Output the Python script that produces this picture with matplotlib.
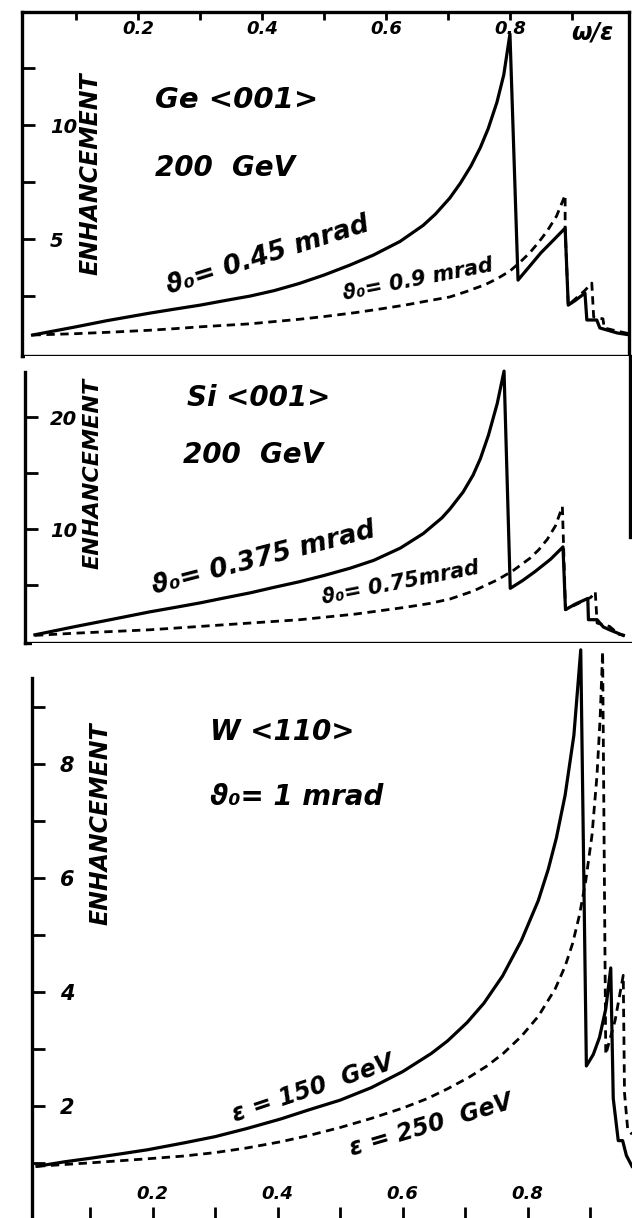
import matplotlib.pyplot as plt

# ---- Ge <001>, 200 GeV ----
ge_x_solid = [0.03, 0.10, 0.15, 0.219, 0.26, 0.30, 0.34, 0.381, 0.42, 0.46, 0.50, 0.542, 0.58,
              0.623, 0.66, 0.68, 0.703, 0.72, 0.737, 0.752, 0.765, 0.779, 0.79, 0.80,
              0.813, 0.83, 0.85, 0.87, 0.889, 0.894, 0.905, 0.921, 0.924, 0.94, 0.945, 0.973, 0.992]
ge_solid = [0.79, 1.15, 1.42, 1.75, 1.93, 2.1, 2.3, 2.5, 2.74, 3.05, 3.42, 3.86, 4.3,
            4.9, 5.6, 6.1, 6.8, 7.45, 8.2, 9.0, 9.85, 11.0, 12.2, 14.0,
            3.2, 3.75, 4.4, 4.95, 5.48, 2.1, 2.3, 2.63, 1.45, 1.45, 1.1, 0.88, 0.8]
ge_x_dash = [0.03, 0.10, 0.16, 0.219, 0.26, 0.30, 0.38, 0.46, 0.50, 0.55, 0.59, 0.63, 0.67,
             0.703, 0.73, 0.76, 0.78, 0.80, 0.815, 0.832, 0.846, 0.86, 0.875, 0.889,
             0.889, 0.894, 0.921, 0.932, 0.935, 0.95, 0.952, 0.975, 0.992]
ge_dash = [0.79, 0.85, 0.92, 1.0, 1.07, 1.15, 1.28, 1.48, 1.6, 1.77, 1.93, 2.1, 2.3,
           2.46, 2.7, 3.0, 3.27, 3.6, 3.95, 4.4, 4.85, 5.35, 6.0, 6.93,
           5.48, 2.1, 2.75, 3.07, 1.58, 1.5, 1.1, 0.95, 0.85]

# ---- Si <001>, 200 GeV ----
si_x_solid = [0.034, 0.10, 0.16, 0.219, 0.26, 0.30, 0.34, 0.381, 0.42, 0.461, 0.50, 0.542, 0.58,
              0.623, 0.66, 0.69, 0.703, 0.724, 0.74, 0.752, 0.765, 0.779, 0.79,
              0.80, 0.82, 0.84, 0.865, 0.885, 0.889, 0.905, 0.925, 0.926, 0.94, 0.95, 0.96, 0.982]
si_solid = [0.55, 1.3, 1.95, 2.6, 3.0, 3.4, 3.85, 4.3, 4.8, 5.3, 5.85, 6.5, 7.2,
            8.3, 9.6, 11.0, 11.8, 13.3, 14.8, 16.3, 18.4, 21.2, 24.1,
            4.7, 5.4, 6.2, 7.3, 8.4, 2.8, 3.3, 3.8, 1.9, 1.9, 1.25, 1.0, 0.5]
si_x_dash = [0.034, 0.10, 0.16, 0.219, 0.26, 0.30, 0.38, 0.461, 0.50, 0.55, 0.59, 0.63, 0.67,
             0.703, 0.74, 0.779, 0.805, 0.832, 0.846, 0.86, 0.873, 0.884,
             0.886, 0.889, 0.93, 0.937, 0.94, 0.96, 0.975, 0.985]
si_dash = [0.5, 0.7, 0.85, 1.0, 1.15, 1.3, 1.6, 1.9, 2.12, 2.4, 2.7, 3.0, 3.35,
           3.75, 4.45, 5.45, 6.3, 7.4, 8.15, 9.1, 10.3, 12.0,
           8.4, 2.8, 3.9, 4.4, 1.6, 1.3, 0.6, 0.5]

# ---- W <110>, theta0 = 1 mrad ----
w_x_150 = [0.015, 0.06, 0.10, 0.15, 0.192, 0.25, 0.30, 0.35, 0.405, 0.45, 0.50, 0.55, 0.60,
           0.646, 0.672, 0.703, 0.73, 0.76, 0.79, 0.817, 0.833, 0.846, 0.86, 0.874, 0.885,
           0.894, 0.905, 0.915, 0.925, 0.933, 0.937, 0.945, 0.952, 0.958, 0.967]
w_150 = [0.94, 1.02, 1.08, 1.16, 1.23, 1.35, 1.46, 1.6, 1.77, 1.93, 2.1, 2.32, 2.6,
         2.92, 3.14, 3.46, 3.8, 4.28, 4.9, 5.6, 6.15, 6.7, 7.45, 8.5, 10.0,
         2.7, 2.9, 3.2, 3.7, 4.42, 2.13, 1.39, 1.39, 1.13, 0.94]
w_x_250 = [0.015, 0.10, 0.19, 0.25, 0.30, 0.35, 0.405, 0.45, 0.50, 0.55, 0.60, 0.64, 0.672,
           0.706, 0.735, 0.761, 0.79, 0.817, 0.844, 0.86, 0.872, 0.883, 0.893, 0.903, 0.911,
           0.916, 0.92, 0.925, 0.94, 0.953, 0.955, 0.96, 0.967]
w_250 = [0.94, 1.0, 1.07, 1.12, 1.18, 1.26, 1.37, 1.48, 1.62, 1.78, 1.96, 2.13, 2.3,
         2.5, 2.7, 2.92, 3.22, 3.57, 4.05, 4.45, 4.85, 5.35, 5.95, 6.75, 7.8,
         8.8, 9.97, 2.9, 3.5, 4.29, 2.23, 1.6, 1.5]

x_ticks = [0.1, 0.2, 0.3, 0.4, 0.5, 0.6, 0.7, 0.8, 0.9]
x_ticklabels = ['', '0.2', '', '0.4', '', '0.6', '', '0.8', '']
ge_yticks = [2.5, 5, 7.5, 10, 12.5]
ge_yticklabels = ['', '5', '', '10', '']
si_yticks = [5, 10, 15, 20]
si_yticklabels = ['', '10', '', '20']
w_yticks = [1, 2, 3, 4, 5, 6, 7, 8, 9]
w_yticklabels = ['', '2', '', '4', '', '6', '', '8', '']

FW, FH = 632, 1218
FONT = dict(family='DejaVu Sans', fontweight='bold', fontstyle='italic')


def box(l, t, r, b):
    return [l / FW, 1 - b / FH, (r - l) / FW, (b - t) / FH]


def label(x, y, s, size, rot=0, ha='center'):
    fig.text(x / FW, 1 - y / FH, s, fontsize=size, rotation=rot, ha=ha, va='center',
             rotation_mode='anchor', **FONT)


def style_y(ax, ticks, labels, pad, size, length):
    ax.set_yticks(ticks, labels=labels)
    ax.tick_params(axis='y', direction='in', length=length, width=2, pad=pad, labelsize=size)
    for t in ax.get_yticklabels():
        t.set_ha('left')
        t.set_fontweight('bold')
        t.set_fontstyle('italic')


fig = plt.figure(figsize=(6.32, 12.18), dpi=100)

solid = dict(color='black', lw=2.3, solid_joinstyle='round')
dashed = dict(color='black', lw=2.0, linestyle=(0, (3, 2)))

# Ge panel
ax1 = fig.add_axes(box(22, 12, 629, 356))
ax1.plot(ge_x_dash, ge_dash, **dashed)
ax1.plot(ge_x_solid, ge_solid, **solid)
ax1.set_xlim(0.013, 0.992)
ax1.set_ylim(-0.13, 14.96)
for s in ax1.spines.values():
    s.set_linewidth(2.4)
ax1.set_xticks(x_ticks, labels=x_ticklabels)
ax1.tick_params(axis='x', top=True, bottom=False, labeltop=True, labelbottom=False,
                direction='in', length=6, width=2, pad=-19, labelsize=13)
for t in ax1.get_xticklabels():
    t.set_fontweight('bold')
    t.set_fontstyle('italic')
style_y(ax1, ge_yticks, ge_yticklabels, -20, 14, 9)

# Si panel
ax2 = fig.add_axes(box(25, 356, 630, 643))
ax2.plot(si_x_dash, si_dash, **dashed)
ax2.plot(si_x_solid, si_solid, **solid)
ax2.set_xlim(0.018, 0.993)
ax2.set_ylim(-0.18, 25.45)
ax2.spines['top'].set_visible(False)
for s in ax2.spines.values():
    s.set_linewidth(2.4)
ax2.spines['left'].set_bounds(-0.18, 24.0)
ax2.spines['right'].set_bounds(9.3, 25.45)
ax2.set_xticks([])
style_y(ax2, si_yticks, si_yticklabels, -18, 14, 9)

# W panel
ax3 = fig.add_axes(box(32, 643, 632, 1221))
ax3.plot(w_x_250, w_250, **dashed)
ax3.plot(w_x_150, w_150, **solid)
ax3.set_xlim(0.007, 0.967)
ax3.set_ylim(-0.02, 10.12)
for k in ('top', 'right', 'bottom'):
    ax3.spines[k].set_visible(False)
ax3.spines['left'].set_linewidth(2.4)
ax3.spines['left'].set_bounds(-0.02, 9.5)
ax3.set_xticks(x_ticks, labels=x_ticklabels)
ax3.tick_params(axis='x', direction='in', length=10, width=2, pad=-26, labelsize=13)
for t in ax3.get_xticklabels():
    t.set_fontweight('bold')
    t.set_fontstyle('italic')
style_y(ax3, w_yticks, w_yticklabels, -20, 15, 9)

# annotations
label(592, 33, 'ω/ε', 17)
label(90, 174, 'ENHANCEMENT', 17, rot=90)
label(155, 100, 'Ge <001>', 21, ha='left')
label(155, 168, '200  GeV', 20, ha='left')
label(268, 256, 'ϑ₀= 0.45 mrad', 19, rot=17.5)
label(418, 280, 'ϑ₀= 0.9 mrad', 15, rot=11)

label(93, 473, 'ENHANCEMENT', 16, rot=90)
label(187, 398, 'Si <001>', 20, ha='left')
label(183, 455, '200  GeV', 20, ha='left')
label(264, 558, 'ϑ₀= 0.375 mrad', 19, rot=14.5)
label(400, 583, 'ϑ₀= 0.75mrad', 15, rot=11)

label(101, 824, 'ENHANCEMENT', 17, rot=90)
label(210, 732, 'W <110>', 20, ha='left')
label(210, 797, 'ϑ₀= 1 mrad', 20, ha='left')
label(313, 1089, 'ε = 150  GeV', 17, rot=18.5)
label(431, 1125, 'ε = 250  GeV', 17, rot=16.5)

fig.savefig('out.png', dpi=100)
